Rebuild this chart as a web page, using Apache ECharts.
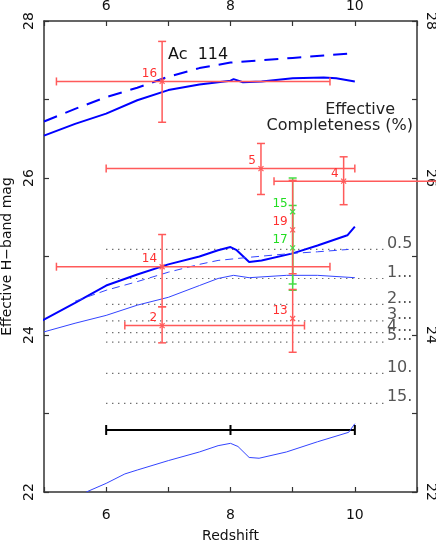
<!DOCTYPE html>
<html>
<head>
<meta charset="utf-8">
<script src="https://cdn.jsdelivr.net/npm/echarts@6/dist/echarts.min.js"></script>
<style>
  html, body { margin: 0; padding: 0; background: #fff; }
  #chart { width: 436px; height: 541px; }
</style>
</head>
<body>
<div id="chart"></div>
<script>
var FONT = 'DejaVu Sans';

// blue curves (redshift, effective H mag)
var acZ = [5, 5.5, 6, 6.5, 7, 7.5, 8, 8.5, 9, 9.5, 10];
var acMag = [26.72, 26.88, 27.03, 27.15, 27.29, 27.40, 27.47, 27.50, 27.53, 27.56, 27.59];
var topZ = [5, 5.5, 6, 6.5, 7, 7.5, 8, 8.05, 8.2, 8.5, 9, 9.5, 9.7, 10];
var topMag = [26.54, 26.69, 26.82, 26.99, 27.12, 27.19, 27.24, 27.26, 27.22, 27.23, 27.27, 27.28, 27.27, 27.23];
var midZ = [4.94, 5.5, 6, 6.5, 7, 7.5, 7.8, 8.0, 8.1, 8.3, 8.5, 9.0, 9.4, 9.88, 10.0];
var midMag = [24.17, 24.41, 24.63, 24.77, 24.90, 25.00, 25.08, 25.12, 25.08, 24.93, 24.95, 25.04, 25.14, 25.27, 25.38];
var midDashZ = [5.5, 6, 6.5, 7, 7.5, 7.8, 8.3, 9.0, 9.4, 9.9];
var midDashMag = [24.43, 24.57, 24.68, 24.80, 24.90, 24.95, 24.99, 25.04, 25.06, 25.09];
var thinZ = [5, 5.5, 6, 6.5, 7, 7.5, 7.8, 8.05, 8.3, 8.9, 9.4, 10];
var thinMag = [24.04, 24.15, 24.25, 24.38, 24.48, 24.63, 24.72, 24.76, 24.73, 24.76, 24.76, 24.73];
var lowZ = [5.68, 6, 6.3, 6.5, 7, 7.5, 7.8, 8.0, 8.12, 8.3, 8.46, 8.9, 9.4, 9.9, 10.0];
var lowMag = [22.0, 22.11, 22.23, 22.28, 22.40, 22.51, 22.59, 22.62, 22.58, 22.44, 22.43, 22.51, 22.64, 22.76, 22.87];

// red candidates
var redIds = ['16', '5', '4', '14', '19', '2', '13'];
var redZ = [6.9, 8.49, 9.82, 6.9, 9.0, 6.9, 9.0];
var redMag = [27.23, 26.12, 25.96, 24.87, 25.34, 24.12, 24.21];
var redZLo = [5.2, 6.0, 8.7, 5.2, 9.0, 6.3, 9.0];
var redZHi = [9.6, 10.0, 11.35, 9.6, 9.0, 9.19, 9.0];
var redMagLo = [26.71, 25.79, 25.66, 24.36, 24.78, 23.90, 23.78];
var redMagHi = [27.74, 26.44, 26.27, 25.28, 25.97, 24.36, 24.58];

// green candidates
var greenIds = ['15', '17'];
var greenZ = [9.0, 9.0];
var greenMag = [25.57, 25.11];
var greenMagLo = [24.65, 24.57];
var greenMagHi = [26.00, 25.65];

// completeness levels
var levelTexts = ['0.5', '1...', '2...', '3...', '4...', '5...', '10.', '15.'];
var levelMag = [25.09, 24.72, 24.39, 24.18, 24.03, 23.91, 23.51, 23.13];
var levelZStart = 6;
var levelZEnd = 10.5;

// black range bar
var barZ = [6, 8, 10];
var barMag = 22.79;

function zip(a, b) {
  return a.map(function (v, i) { return [v, b[i]]; });
}

var myChart = echarts.init(document.getElementById('chart'));

function line(x1, y1, x2, y2, color, w) {
  return { type: 'line', shape: { x1: x1, y1: y1, x2: x2, y2: y2 },
           style: { stroke: color, lineWidth: w } };
}

function errRender(ids, color, labelColor, part) {
  return function (params, api) {
    var c = api.coord([api.value(0), api.value(1)]);
    var ch = [];
    if (part !== 'mark') {
      var zlo = api.value(2), zhi = api.value(3);
      var ylo = api.coord([api.value(0), api.value(4)])[1];
      var yhi = api.coord([api.value(0), api.value(5)])[1];
      ch.push(line(c[0], yhi, c[0], ylo, color, 1.5));
      ch.push(line(c[0] - 4, yhi, c[0] + 4, yhi, color, 1.5));
      ch.push(line(c[0] - 4, ylo, c[0] + 4, ylo, color, 1.5));
      if (zhi > zlo) {
        var xl = api.coord([zlo, api.value(1)])[0];
        var xh = api.coord([zhi, api.value(1)])[0];
        ch.push(line(xl, c[1], xh, c[1], color, 1.5));
        if (zlo >= 5) ch.push(line(xl, c[1] - 4, xl, c[1] + 4, color, 1.5));
        if (zhi <= 11) ch.push(line(xh, c[1] - 4, xh, c[1] + 4, color, 1.5));
      }
    }
    if (part !== 'bars') {
      ch.push(line(c[0] - 2.5, c[1] - 2.5, c[0] + 2.5, c[1] + 2.5, color, 1.2));
      ch.push(line(c[0] - 2.5, c[1] + 2.5, c[0] + 2.5, c[1] - 2.5, color, 1.2));
      ch.push({ type: 'text', style: { text: ids[params.dataIndex], x: c[0] - 5, y: c[1] - 7.5,
        align: 'right', verticalAlign: 'middle', fill: labelColor, font: '12px ' + FONT } });
    }
    return { type: 'group', children: ch };
  };
}

var redData = redZ.map(function (z, i) {
  return [z, redMag[i], redZLo[i], redZHi[i], redMagLo[i], redMagHi[i]];
});
var greenData = greenZ.map(function (z, i) {
  return [z, greenMag[i], z, z, greenMagLo[i], greenMagHi[i]];
});

function axisCommon(pos, extra) {
  var o = {
    type: 'value', position: pos,
    axisLine: { onZero: false, lineStyle: { color: '#333', width: 1.5 } },
    axisTick: { inside: true, length: 5, lineStyle: { color: '#333', width: 1.2 } },
    splitLine: { show: false },
    axisLabel: { fontFamily: FONT, fontSize: 14, color: '#111',
      formatter: function (v) { return v % 2 === 0 ? String(v) : ''; } }
  };
  for (var k in extra) o[k] = extra[k];
  return o;
}

var xBottom = axisCommon('bottom', { min: 5, max: 11, interval: 1, name: 'Redshift',
  nameLocation: 'middle', nameGap: 37,
  nameTextStyle: { fontFamily: FONT, fontSize: 14, color: '#111' } });
xBottom.axisLabel.margin = 16;
xBottom.axisLabel.formatter = function (v) { return (v % 2 === 0 && v > 5 && v < 11) ? String(v) : ''; };
var xTop = axisCommon('top', { min: 5, max: 11, interval: 1 });
xTop.axisLabel.margin = 8;
xTop.axisLabel.formatter = xBottom.axisLabel.formatter;

var yLeft = axisCommon('left', { min: 22, max: 28, interval: 1, name: 'Effective H\u2212band mag',
  nameLocation: 'middle', nameGap: 27, nameRotate: 90,
  nameTextStyle: { fontFamily: FONT, fontSize: 14, color: '#111' } });
yLeft.axisLabel.rotate = 90;
yLeft.axisLabel.margin = 8;
var yRight = axisCommon('right', { min: 22, max: 28, interval: 1 });
yRight.axisLabel.rotate = -90;
yRight.axisLabel.margin = 7;

var option = {
  animation: false,
  backgroundColor: '#fff',
  grid: { left: 44, right: 19, top: 21, bottom: 49, containLabel: false, outerBoundsMode: 'none' },
  xAxis: [xBottom, xTop],
  yAxis: [yLeft, yRight],
  series: [
    { type: 'custom', name: 'levels', z: 2,
      data: levelMag.map(function (m, i) { return [levelZStart, m, levelZEnd, i]; }),
      renderItem: function (params, api) {
        var a = api.coord([api.value(0), api.value(1)]);
        var b = api.coord([api.value(2), api.value(1)]);
        return { type: 'group', children: [
          { type: 'line', shape: { x1: a[0], y1: a[1], x2: b[0], y2: b[1] },
            style: { stroke: '#555', lineWidth: 1.2, lineDash: [1.2, 4.8] } },
          { type: 'text', style: { text: levelTexts[api.value(3)], x: b[0] + 1, y: b[1] - 6,
            align: 'left', verticalAlign: 'middle', fill: '#555', font: '16px ' + FONT } }
        ] };
      } },
    { type: 'custom', name: 'range', z: 2,
      data: [[barZ[0], barMag, barZ[barZ.length - 1]]],
      renderItem: function (params, api) {
        var a = api.coord([api.value(0), api.value(1)]);
        var b = api.coord([api.value(2), api.value(1)]);
        var ch = [line(a[0], a[1], b[0], b[1], '#000', 2)];
        barZ.forEach(function (z) {
          var p = api.coord([z, barMag]);
          ch.push(line(p[0], p[1] - 5, p[0], p[1] + 5, '#000', 2));
        });
        return { type: 'group', children: ch };
      } },
    { type: 'line', name: 'Ac 114', data: zip(acZ, acMag), showSymbol: false, z: 3,
      lineStyle: { color: '#0000ff', width: 2, type: [14, 9] } },
    { type: 'line', data: zip(topZ, topMag), showSymbol: false, z: 3,
      lineStyle: { color: '#0000ff', width: 2 } },
    { type: 'line', data: zip(midZ, midMag), showSymbol: false, z: 3, clip: false,
      lineStyle: { color: '#0000ff', width: 2 } },
    { type: 'line', data: zip(midDashZ, midDashMag), showSymbol: false, z: 3,
      lineStyle: { color: '#3344ff', width: 1, type: [8, 5] } },
    { type: 'line', data: zip(thinZ, thinMag), showSymbol: false, z: 3,
      lineStyle: { color: '#3344ff', width: 1 } },
    { type: 'line', data: zip(lowZ, lowMag), showSymbol: false, z: 3,
      lineStyle: { color: '#3344ff', width: 1 } },
    { type: 'custom', name: 'green bars', z: 4, data: greenData,
      renderItem: errRender(greenIds, '#44dd44', '#22dd22', 'bars') },
    { type: 'custom', name: 'red', z: 5, data: redData,
      renderItem: errRender(redIds, '#ff5a5a', '#ff3030', 'all') },
    { type: 'custom', name: 'green marks', z: 6, data: greenData,
      renderItem: errRender(greenIds, '#44dd44', '#22dd22', 'mark') }
  ],
  graphic: [
    { type: 'text', x: 168, y: 55, style: { text: 'Ac  114', font: '16px ' + FONT, fill: '#111',
      verticalAlign: 'middle' } },
    { type: 'text', x: 395, y: 110, style: { text: 'Effective', font: '16px ' + FONT, fill: '#222',
      align: 'right', verticalAlign: 'middle' } },
    { type: 'text', x: 413, y: 126, style: { text: 'Completeness (%)', font: '16px ' + FONT, fill: '#222',
      align: 'right', verticalAlign: 'middle' } }
  ]
};

myChart.setOption(option);
</script>
</body>
</html>
